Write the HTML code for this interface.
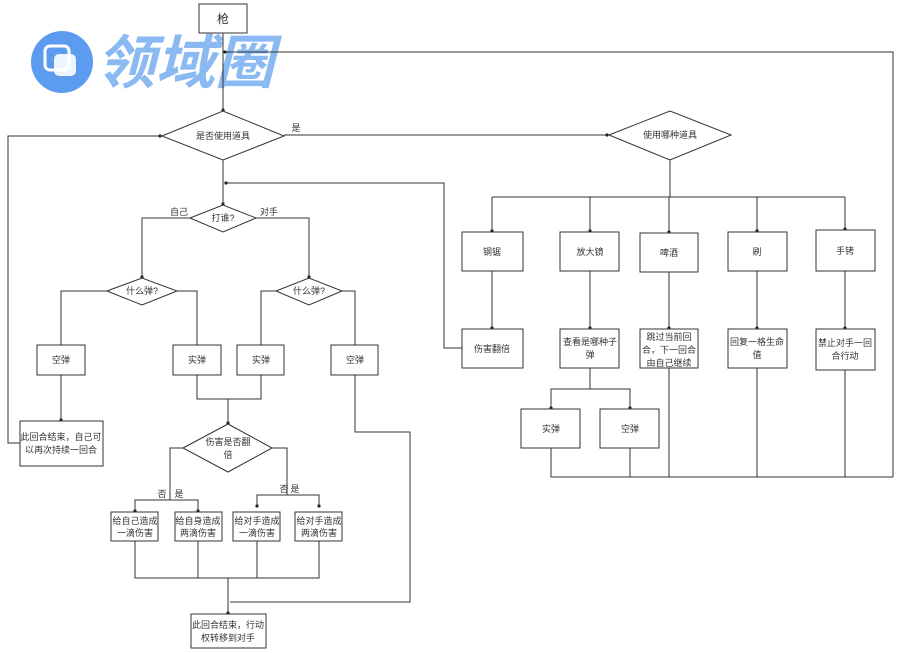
<!DOCTYPE html>
<html><head><meta charset="utf-8"><style>
html,body{margin:0;padding:0;background:#fff;}
svg{display:block;}
text{font-family:"Liberation Sans","Noto Sans CJK SC",sans-serif;font-size:9px;fill:#333;text-anchor:middle;}
</style></head><body>
<svg width="900" height="653" viewBox="0 0 900 653" xmlns="http://www.w3.org/2000/svg">
<defs><marker id="d" markerWidth="4" markerHeight="4" refX="2" refY="2"><circle cx="2" cy="2" r="1.6" fill="#222"/></marker></defs>
<!-- logo watermark -->
<circle cx="62" cy="62" r="31" fill="#5b9cf0"/>
<rect x="45" y="46" width="24" height="24" rx="5" fill="none" stroke="#fff" stroke-width="3"/>
<rect x="54" y="54" width="22" height="22" rx="5" fill="#fff" opacity="0.9"/>
<text x="96" y="83" textLength="178" lengthAdjust="spacingAndGlyphs" style="text-anchor:start;font-size:58px;font-weight:bold;font-style:italic;fill:#8bbaf3;font-family:'Noto Sans CJK SC',sans-serif">领域圈</text>

<g fill="none" stroke="#333" stroke-width="1">
<!-- top -->
<rect x="199" y="4" width="48" height="29" fill="#fff"/>
<polyline points="223,33 223,110" marker-end="url(#d)"/>
<polyline points="893,477 893,52 225,52" marker-end="url(#d)"/>
<polygon points="162,136 223,111 284,136 223,160" fill="#fff"/>
<polyline points="20,443 8,443 8,136 160,136" marker-end="url(#d)"/>
<polyline points="284,135 607,135" marker-end="url(#d)"/>
<polyline points="223,160 223,204" marker-end="url(#d)"/>
<polyline points="462,348 444,348 444,183 226,183" marker-end="url(#d)"/>
<polygon points="190,218 223,205 256,218 223,232" fill="#fff"/>
<polyline points="190,218 142,218 142,277" marker-end="url(#d)"/>
<polyline points="256,218 309,218 309,277" marker-end="url(#d)"/>
<polygon points="107,291 142,278 177,291 142,305" fill="#fff"/>
<polygon points="276,291 309,278 342,291 309,305" fill="#fff"/>
<polyline points="107,291 61,291 61,346" marker-end="url(#d)"/>
<polyline points="177,291 197,291 197,346" marker-end="url(#d)"/>
<polyline points="276,291 261,291 261,346" marker-end="url(#d)"/>
<polyline points="342,291 355,291 355,346" marker-end="url(#d)"/>
<rect x="37" y="345" width="48" height="30" fill="#fff"/>
<rect x="173" y="345" width="48" height="30" fill="#fff"/>
<rect x="237" y="345" width="47" height="30" fill="#fff"/>
<rect x="331" y="345" width="47" height="30" fill="#fff"/>
<polyline points="61,375 61,420" marker-end="url(#d)"/>
<rect x="20" y="421" width="83" height="45" fill="#fff"/>
<polyline points="197,375 197,399 261,399 261,375"/>
<polyline points="228,399 228,423" marker-end="url(#d)"/>
<polygon points="183,448 228,424 272,448 228,472" fill="#fff"/>
<polyline points="183,448 170,448 170,500"/>
<polyline points="135,511 135,500 198,500 198,511" marker-end="url(#d)"/>
<line x1="135" y1="500" x2="135" y2="511" marker-end="url(#d)"/>
<polyline points="272,448 287,448 287,495"/>
<polyline points="257,506 257,495 319,495 319,506" marker-end="url(#d)"/>
<line x1="257" y1="495" x2="257" y2="506" marker-end="url(#d)"/>
<rect x="111" y="512" width="47" height="29" fill="#fff"/>
<rect x="175" y="512" width="47" height="29" fill="#fff"/>
<rect x="233" y="512" width="47" height="29" fill="#fff"/>
<rect x="295" y="512" width="47" height="29" fill="#fff"/>
<polyline points="135,541 135,578 319,578 319,541"/>
<line x1="198" y1="541" x2="198" y2="578"/>
<line x1="257" y1="541" x2="257" y2="578"/>
<polyline points="228,578 228,613" marker-end="url(#d)"/>
<polyline points="355,375 355,432 410,432 410,602 230,602"/>
<rect x="191" y="614" width="75" height="34" fill="#fff"/>
<!-- right -->
<polygon points="609,135 670,111 731,135 670,160" fill="#fff"/>
<polyline points="670,160 670,197"/>
<line x1="492" y1="197" x2="845" y2="197"/>
<polyline points="492,197 492,231" marker-end="url(#d)"/>
<polyline points="590,197 590,231" marker-end="url(#d)"/>
<polyline points="669,197 669,232" marker-end="url(#d)"/>
<polyline points="757,197 757,231" marker-end="url(#d)"/>
<polyline points="845,197 845,229" marker-end="url(#d)"/>
<rect x="462" y="232" width="61" height="39" fill="#fff"/>
<rect x="560" y="232" width="59" height="39" fill="#fff"/>
<rect x="640" y="233" width="58" height="39" fill="#fff"/>
<rect x="728" y="232" width="59" height="39" fill="#fff"/>
<rect x="816" y="230" width="59" height="41" fill="#fff"/>
<polyline points="492,271 492,328" marker-end="url(#d)"/>
<polyline points="590,271 590,328" marker-end="url(#d)"/>
<polyline points="669,272 669,328" marker-end="url(#d)"/>
<polyline points="757,271 757,328" marker-end="url(#d)"/>
<polyline points="845,271 845,328" marker-end="url(#d)"/>
<rect x="462" y="329" width="61" height="39" fill="#fff"/>
<rect x="560" y="329" width="59" height="39" fill="#fff"/>
<rect x="640" y="329" width="58" height="39" fill="#fff"/>
<rect x="728" y="329" width="59" height="39" fill="#fff"/>
<rect x="816" y="329" width="59" height="41" fill="#fff"/>
<polyline points="590,368 590,389"/>
<polyline points="551,408 551,389 630,389 630,408" marker-end="url(#d)"/>
<line x1="551" y1="389" x2="551" y2="408" marker-end="url(#d)"/>
<rect x="521" y="409" width="59" height="39" fill="#fff"/>
<rect x="600" y="409" width="59" height="39" fill="#fff"/>
<polyline points="551,448 551,477 893,477"/>
<line x1="630" y1="448" x2="630" y2="477"/>
<line x1="669" y1="368" x2="669" y2="477"/>
<line x1="757" y1="368" x2="757" y2="477"/>
<line x1="845" y1="370" x2="845" y2="477"/>
</g>

<text x="223" y="23" style="font-size:12px">枪</text>
<text x="223" y="139">是否使用道具</text>
<text x="296" y="131">是</text>
<text x="670" y="138">使用哪种道具</text>
<text x="223" y="221">打谁?</text>
<text x="179" y="215">自己</text>
<text x="269" y="215">对手</text>
<text x="142" y="294">什么弹?</text>
<text x="309" y="294">什么弹?</text>
<text x="61" y="363">空弹</text>
<text x="197" y="363">实弹</text>
<text x="261" y="363">实弹</text>
<text x="355" y="363">空弹</text>
<text x="61" y="440">此回合结束，自己可</text>
<text x="61" y="453">以再次持续一回合</text>
<text x="228" y="445">伤害是否翻</text>
<text x="228" y="458">倍</text>
<text x="162" y="497">否</text>
<text x="179" y="497">是</text>
<text x="284" y="492">否</text>
<text x="295" y="492">是</text>
<text x="135" y="524">给自己造成</text>
<text x="135" y="536">一滴伤害</text>
<text x="198" y="524">给自身造成</text>
<text x="198" y="536">两滴伤害</text>
<text x="257" y="524">给对手造成</text>
<text x="257" y="536">一滴伤害</text>
<text x="319" y="524">给对手造成</text>
<text x="319" y="536">两滴伤害</text>
<text x="228" y="628">此回合结束，行动</text>
<text x="228" y="641">权转移到对手</text>
<text x="492" y="255">钢锯</text>
<text x="590" y="255">放大镜</text>
<text x="669" y="256">啤酒</text>
<text x="757" y="255">刷</text>
<text x="845" y="254">手铐</text>
<text x="492" y="352">伤害翻倍</text>
<text x="590" y="345">查看是哪种子</text>
<text x="590" y="358">弹</text>
<text x="669" y="340">跳过当前回</text>
<text x="669" y="353">合，下一回合</text>
<text x="669" y="366">由自己继续</text>
<text x="757" y="345">回复一格生命</text>
<text x="757" y="358">值</text>
<text x="845" y="346">禁止对手一回</text>
<text x="845" y="359">合行动</text>
<text x="551" y="432">实弹</text>
<text x="630" y="432">空弹</text>
</svg>
</body></html>
